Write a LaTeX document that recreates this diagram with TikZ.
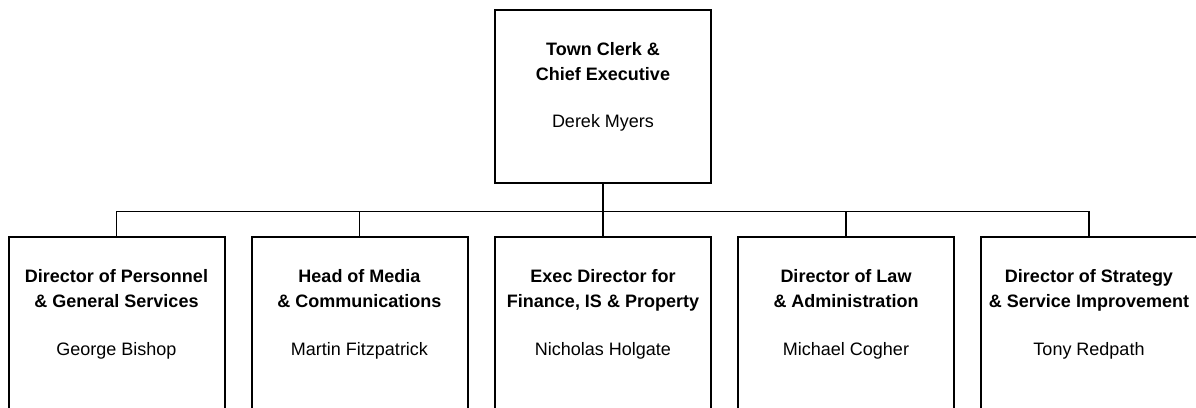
\documentclass[tikz,border=0pt]{standalone}
\usepackage{fontspec}
\setmainfont{Liberation Sans}
\begin{document}
\begin{tikzpicture}[x=1pt,y=-1pt,
  box/.style={draw, line width=2pt, minimum width=216pt, inner sep=0pt},
  topbox/.style={box, minimum height=173pt},
  subbox/.style={box, minimum height=183pt},
  title/.style={font=\bfseries\fontsize{18}{24.5}\selectfont, align=center, inner sep=0pt, anchor=base},
  person/.style={font=\fontsize{18}{22}\selectfont, inner sep=0pt, anchor=base},
  link/.style={line width=1.3pt}]
\useasboundingbox (0,0) rectangle (1196,407);
\clip (0,0) rectangle (1196,407);
% top box
\node[topbox] (ceo) at (603,96.5) {};
\node[title] (ceot) at (603,80) {Town Clerk \&\\Chief Executive};
\node[person] (ceon) at (603,127) {Derek Myers};
% subordinate boxes
\node[subbox] (c1) at (116.5,328.5) {};
\node[subbox] (c2) at (359.5,328.5) {};
\node[subbox] (c3) at (603,328.5) {};
\node[subbox] (c4) at (846,328.5) {};
\node[subbox] (c5) at (1089,328.5) {};
\node[title] (t1) at (116.5,307) {Director of Personnel\\\& General Services};
\node[title] (t2) at (359.5,307) {Head of Media\\\& Communications};
\node[title] (t3) at (603,307) {Exec Director for\\Finance, IS \& Property};
\node[title] (t4) at (846,307) {Director of Law\\\& Administration};
\node[title] (t5) at (1089,307) {Director of Strategy\\\& Service Improvement};
\node[person] (n1) at (116.5,355) {George Bishop};
\node[person] (n2) at (359.5,355) {Martin Fitzpatrick};
\node[person] (n3) at (603,355) {Nicholas Holgate};
\node[person] (n4) at (846,355) {Michael Cogher};
\node[person] (n5) at (1089,355) {Tony Redpath};
% connectors
\foreach \c in {c1,c2,c3,c4,c5}
  \draw[link] (ceo.south) -- ++(0,27.5) -| (\c.north);
\end{tikzpicture}
\end{document}
